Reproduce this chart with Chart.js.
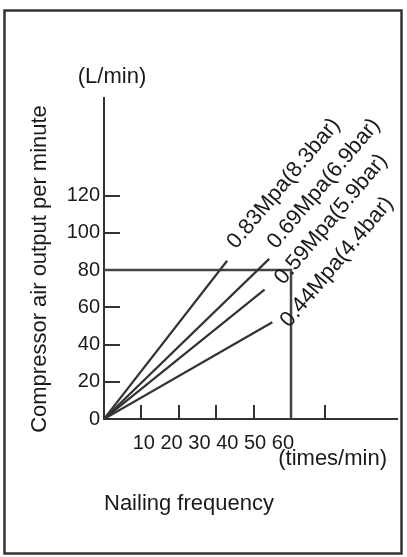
<!DOCTYPE html>
<html>
<head>
<meta charset="utf-8">
<script src="https://cdn.jsdelivr.net/npm/chart.js@4.4.1/dist/chart.umd.min.js"></script>
<style>
  html, body { margin: 0; padding: 0; background: #fff; }
  #wrap { width: 407px; height: 557px; position: relative; }
</style>
</head>
<body>
<div id="wrap"><canvas id="airChart"></canvas></div>
<script>
// pressure curves: every line starts at the origin and ends here
const pressureLabels = ['0.83Mpa(8.3bar)', '0.69Mpa(6.9bar)', '0.59Mpa(5.9bar)', '0.44Mpa(4.4bar)'];
const endFrequency = [39.5, 53, 51.5, 54];   // times/min
const endAirOutput = [85, 86, 69.5, 52];     // L/min

// 80 L/min at 60 times/min guide
const guideFrequency = [0, 60, 60];
const guideAirOutput = [80, 80, 0];

const yTickValues = [0, 20, 40, 60, 80, 100, 120];
const xTickLabels = [10, 20, 30, 40, 50, 60];
const xTickMarks = [12, 24, 36, 48, 60, 71];

const ink = '#1a1a1a';
const lineInk = '#333';
const fontFamily = "'Liberation Sans', Arial, sans-serif";

Chart.defaults.font.family = fontFamily;
Chart.defaults.color = ink;

const datasets = pressureLabels.map((label, i) => ({
    label: label,
    data: [{ x: 0, y: 0 }, { x: endFrequency[i], y: endAirOutput[i] }],
    borderColor: lineInk,
    borderWidth: 2.2,
    pointRadius: 0,
    tension: 0,
    xAxisID: 'x',
    yAxisID: 'y'
}));
datasets.push({
    label: 'guide',
    data: guideFrequency.map((f, i) => ({ x: f, y: guideAirOutput[i] })),
    borderColor: '#444',
    borderWidth: 2.5,
    pointRadius: 0,
    tension: 0,
    xAxisID: 'x',
    yAxisID: 'y'
});

// where each rotated pressure label starts relative to its line end (px)
const labelNudge = [[9, -11], [7, -9], [19, -4], [17, 6]];

const textPlugin = {
    id: 'chartTexts',
    beforeDraw(chart) {
        const ctx = chart.ctx;
        ctx.save();
        ctx.strokeStyle = '#333';
        ctx.lineWidth = 2.5;
        ctx.strokeRect(4.5, 10.5, 397, 543);
        ctx.restore();
    },
    afterDatasetsDraw(chart) {
        const ctx = chart.ctx;
        ctx.save();
        ctx.fillStyle = ink;
        ctx.font = '22px ' + fontFamily;

        // pressure labels, rotated along the lines
        pressureLabels.forEach((label, i) => {
            const pts = chart.getDatasetMeta(i).data;
            const end = pts[pts.length - 1];
            ctx.save();
            ctx.translate(end.x + labelNudge[i][0], end.y + labelNudge[i][1]);
            ctx.rotate(-50 * Math.PI / 180);
            ctx.textAlign = 'left';
            ctx.textBaseline = 'alphabetic';
            ctx.fillText(label, 0, 0);
            ctx.restore();
        });

        // units
        ctx.textBaseline = 'middle';
        ctx.textAlign = 'center';
        ctx.fillText('(L/min)', 112, 77);
        ctx.textAlign = 'right';
        ctx.fillText('(times/min)', 387, 459);

        // y axis title
        ctx.save();
        ctx.translate(40, 269);
        ctx.rotate(-Math.PI / 2);
        ctx.textAlign = 'center';
        ctx.fillText('Compressor air output per minute', 0, 0);
        ctx.restore();
        ctx.restore();
    }
};

new Chart(document.getElementById('airChart'), {
    type: 'line',
    data: { datasets: datasets },
    options: {
        responsive: true,
        maintainAspectRatio: false,
        animation: false,
        layout: { padding: { top: 98, right: 10, left: 0, bottom: 0 } },
        plugins: {
            legend: { display: false },
            tooltip: { enabled: false }
        },
        scales: {
            x: {
                type: 'linear',
                position: 'bottom',
                min: 0,
                max: 94,
                afterBuildTicks: s => { s.ticks = xTickMarks.map(v => ({ value: v })); },
                afterFit: s => { s.height = 0; },
                ticks: { display: false },
                grid: { drawOnChartArea: false, drawTicks: true, tickLength: -14, color: lineInk, lineWidth: 2 },
                border: { color: lineInk, width: 2 }
            },
            xLabels: {
                type: 'linear',
                position: 'bottom',
                min: -4.3,
                max: 101,
                afterBuildTicks: s => { s.ticks = xTickLabels.map(v => ({ value: v })); },
                afterFit: s => { s.height = 138; },
                ticks: { autoSkip: false, maxRotation: 0, padding: 4, font: { size: 20 }, color: ink },
                grid: { display: false },
                border: { display: false },
                title: {
                    display: true,
                    text: 'Nailing frequency',
                    align: 'start',
                    color: ink,
                    font: { size: 22 },
                    padding: { top: 0, bottom: 40 }
                }
            },
            y: {
                type: 'linear',
                position: 'left',
                min: 0,
                max: 172.4,
                afterBuildTicks: s => { s.ticks = yTickValues.map(v => ({ value: v })); },
                afterFit: s => { s.width = 104; },
                ticks: { autoSkip: false, padding: 20, font: { size: 20 }, color: ink },
                grid: { drawOnChartArea: false, drawTicks: true, tickLength: -16, color: lineInk, lineWidth: 2 },
                border: { color: lineInk, width: 2 }
            }
        }
    },
    plugins: [textPlugin]
});
</script>
</body>
</html>
